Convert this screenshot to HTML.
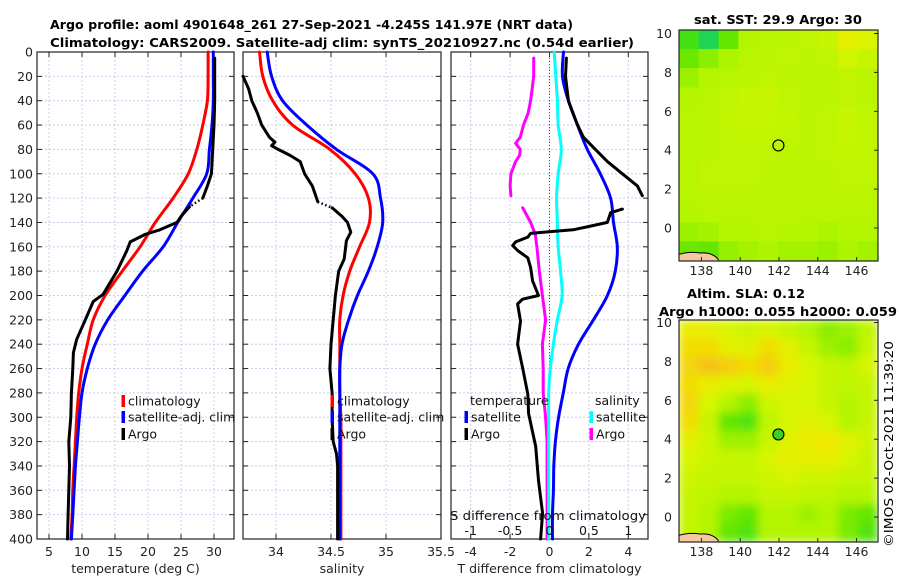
<!DOCTYPE html>
<html><head><meta charset="utf-8">
<style>
html,body{margin:0;padding:0;background:#fff;}
svg{display:block;font-family:"DejaVu Sans","Liberation Sans",sans-serif;}
</style></head>
<body>
<svg id="fig" width="900" height="580" viewBox="0 0 900 580" xmlns="http://www.w3.org/2000/svg">
<defs>
<clipPath id="clipM1"><rect x="679" y="30" width="199" height="231"/></clipPath>
<clipPath id="clipM2"><rect x="679" y="320" width="198" height="222"/></clipPath>
<filter id="blur2" x="-10%" y="-10%" width="120%" height="120%"><feGaussianBlur stdDeviation="4.5" edgeMode="duplicate"/></filter>
</defs>
<text x="50" y="29" font-size="12.5" font-weight="bold" textLength="523" lengthAdjust="spacingAndGlyphs">Argo profile: aoml 4901648_261 27-Sep-2021 -4.245S 141.97E (NRT data)</text>
<text x="50" y="47" font-size="12.5" font-weight="bold" textLength="584" lengthAdjust="spacingAndGlyphs">Climatology: CARS2009. Satellite-adj clim: synTS_20210927.nc (0.54d earlier)</text>
<text x="694" y="24" font-size="12.5" font-weight="bold" textLength="168" lengthAdjust="spacingAndGlyphs">sat. SST: 29.9 Argo: 30</text>
<text x="687" y="298" font-size="12.5" font-weight="bold" textLength="118" lengthAdjust="spacingAndGlyphs">Altim. SLA: 0.12</text>
<text x="659" y="316" font-size="12.5" font-weight="bold" textLength="238" lengthAdjust="spacingAndGlyphs">Argo h1000: 0.055 h2000: 0.059</text>
<text x="0" y="0" font-size="12.5" text-anchor="middle" transform="translate(893,444) rotate(-90)" textLength="206" lengthAdjust="spacingAndGlyphs">©IMOS 02-Oct-2021 11:39:20</text>
</svg>
<script>
// ---------- data ----------
const depthClim = [0,20,40,60,80,100,120,140,160,180,200,220,240,260,280,300,320,340,360,380,400];
const climT = [29.1,29.1,29.0,28.3,27.4,26.1,23.8,21.1,18.8,16.1,13.5,11.7,10.8,10.0,9.5,9.2,9.0,8.8,8.6,8.5,8.3];
const satT  = [29.9,29.9,29.9,29.7,29.3,28.9,26.8,24.5,22.3,19.2,16.5,13.9,12.0,10.8,10.0,9.6,9.3,9.0,8.8,8.6,8.4];
const depthArgoT = [5,20,40,60,80,100,110,120,127,135,140,146,150,156,163,180,190,199,205,220,236,247,260,280,300,320,340,360,380,400];
const argoT = [30.1,30.1,30.1,30.0,29.8,29.6,29.0,28.3,26.3,25.0,24.4,21.8,19.5,17.3,16.8,15.3,14.2,13.2,11.7,10.5,9.2,8.7,8.6,8.4,8.3,8.0,8.1,8.0,7.9,7.8];
const argoTGap = [7,8];
const climS = [33.85,33.88,33.97,34.15,34.49,34.72,34.84,34.85,34.76,34.67,34.61,34.58,34.58,34.58,34.58,34.59,34.59,34.59,34.59,34.59,34.59];
const satS  = [33.92,33.96,34.06,34.28,34.55,34.88,34.95,34.97,34.92,34.84,34.74,34.66,34.60,34.58,34.58,34.58,34.58,34.58,34.58,34.58,34.58];
const depthArgoS = [20,30,40,50,60,70,74,77,80,85,90,100,110,123,128,135,140,148,155,170,180,200,220,240,260,280,300,320,330,340,360,400];
const argoS = [33.70,33.75,33.78,33.83,33.87,33.94,33.99,33.96,34.02,34.13,34.22,34.26,34.33,34.38,34.51,34.60,34.65,34.68,34.64,34.62,34.57,34.54,34.52,34.50,34.49,34.51,34.51,34.52,34.55,34.56,34.56,34.56];
const argoSGap = [13,14];
const satTdiff = [0.71,0.66,0.96,1.42,1.92,2.58,3.1,3.25,3.44,3.34,2.94,2.23,1.47,0.95,0.7,0.46,0.3,0.22,0.2,0.15,0.15];
const satSdiff = [0.06,0.08,0.1,0.11,0.15,0.11,0.09,0.1,0.11,0.14,0.16,0.1,0.05,0.01,-0.01,-0.01,-0.01,-0.01,-0.01,-0.01,-0.01];
const depthArgoTdiff = [5,20,40,60,70,80,90,100,110,118,null,129,132,140,143,146,147.5,149,152,156,159,163,169,177,188,200,203,207,221,240,259,281,297,324,352,379,400];
const argoTdiff = [0.86,0.81,0.96,1.42,1.72,2.33,2.94,3.7,4.46,4.71,null,3.7,3.1,2.94,2.08,1.2,0.05,-0.96,-1.1,-1.72,-1.87,-1.62,-1.1,-0.96,-0.86,-0.56,-1.37,-1.62,-1.47,-1.62,-1.37,-1.1,-1.06,-0.7,-0.56,-0.35,-0.45];
const depthArgoSdiff = [5,20,30,40,50,60,70,75,80,85,90,100,110,118,null,128,140,150,160,180,200,220,240,260,280,300,320,340,380,400];
const argoSdiff = [-0.2,-0.2,-0.22,-0.24,-0.27,-0.33,-0.37,-0.43,-0.37,-0.38,-0.43,-0.49,-0.5,-0.49,null,-0.34,-0.24,-0.18,-0.16,-0.13,-0.09,-0.05,-0.09,-0.08,-0.08,-0.05,-0.03,-0.03,-0.03,-0.03];
const depthTicks = [0,20,40,60,80,100,120,140,160,180,200,220,240,260,280,300,320,340,360,380,400];
const tempTicks = [5,10,15,20,25,30];
const salTicks = [34,34.5,35,35.5];
const salTickLabels = ["34","34.5","35","35.5"];
const tdiffTicks = [-4,-2,0,2,4];
const sdiffTicks = [-1,-0.5,0,0.5,1];
const sdiffTickLabels = ["-1","-0.5","0","0.5","1"];
const lonTicks = [138,140,142,144,146];
const latTicks = [0,2,4,6,8,10];
const argoLon = 141.97, argoLat = 4.245;
const sstGrid = [
 [.3,.22,.35,.45,.46,.47,.48,.5,.6,.56],
 [.36,.4,.44,.46,.47,.48,.47,.48,.53,.5],
 [.42,.45,.46,.47,.48,.47,.47,.47,.48,.47],
 [.45,.46,.48,.5,.5,.48,.47,.47,.48,.47],
 [.46,.47,.49,.5,.5,.49,.47,.48,.5,.48],
 [.46,.47,.48,.49,.49,.48,.47,.48,.5,.49],
 [.46,.47,.48,.48,.48,.47,.47,.48,.49,.49],
 [.46,.48,.48,.48,.47,.47,.47,.47,.48,.48],
 [.46,.47,.47,.47,.47,.47,.47,.47,.47,.47],
 [.45,.46,.46,.46,.47,.47,.46,.46,.46,.46],
 [.42,.43,.45,.45,.46,.45,.45,.44,.45,.45],
 [.36,.35,.41,.43,.44,.43,.43,.42,.44,.43]
];
const slaGrid = [
 [.62,.6,.55,.52,.55,.5,.45,.4,.42,.48],
 [.68,.68,.6,.58,.68,.6,.5,.42,.4,.5],
 [.7,.75,.72,.68,.72,.62,.55,.5,.48,.55],
 [.68,.62,.58,.55,.62,.58,.55,.5,.48,.5],
 [.7,.55,.45,.4,.52,.55,.55,.5,.45,.5],
 [.68,.5,.35,.32,.48,.55,.58,.55,.45,.5],
 [.6,.52,.42,.42,.5,.58,.62,.65,.58,.52],
 [.55,.52,.5,.5,.55,.6,.6,.62,.55,.5],
 [.52,.5,.5,.5,.52,.55,.52,.52,.5,.5],
 [.5,.48,.45,.45,.5,.5,.48,.48,.45,.45],
 [.5,.45,.38,.35,.45,.45,.42,.45,.38,.35],
 [.5,.45,.35,.32,.45,.45,.45,.45,.38,.32]
];

// ---------- helpers ----------
const svg = document.getElementById('fig');
const NS = 'http://www.w3.org/2000/svg';
function mk(tag, attrs, parent){
  const e = document.createElementNS(NS, tag);
  for (const k in attrs) e.setAttribute(k, attrs[k]);
  (parent||svg).appendChild(e);
  return e;
}
const Y0 = 52, Y1 = 539;
function yD(d){ return Y0 + d*(Y1-Y0)/400; }
function xT(t){ return 49 + (t-5)*6.6; }
function xS(s){ return 331 + (s-34.5)*110; }
function xTd(v){ return 549.5 + v*19.7; }
function xSd(v){ return 549.5 + v*78.8; }

function smoothPath(xs, ys){
  let d = 'M'+xs[0].toFixed(1)+','+ys[0].toFixed(1);
  for (let i=0;i<xs.length-1;i++){
    const x0=xs[Math.max(i-1,0)], y0=ys[Math.max(i-1,0)];
    const x1=xs[i], y1=ys[i], x2=xs[i+1], y2=ys[i+1];
    const x3=xs[Math.min(i+2,xs.length-1)], y3=ys[Math.min(i+2,xs.length-1)];
    const c1x=x1+(x2-x0)/6, c1y=y1+(y2-y0)/6, c2x=x2-(x3-x1)/6, c2y=y2-(y3-y1)/6;
    d += ' C'+c1x.toFixed(1)+','+c1y.toFixed(1)+' '+c2x.toFixed(1)+','+c2y.toFixed(1)+' '+x2.toFixed(1)+','+y2.toFixed(1);
  }
  return d;
}
function linePath(xs, ys){
  let d=''; let pen=false;
  for (let i=0;i<xs.length;i++){
    if (xs[i]===null || ys[i]===null || isNaN(xs[i])){ pen=false; continue; }
    d += (pen?' L':' M')+xs[i].toFixed(1)+','+ys[i].toFixed(1); pen=true;
  }
  return d;
}

function panel(name, x0, x1, xticks, xfun, labels, title, gridX){
  const g = mk('g', {});
  
  
  for (const d of depthTicks){
    const l = mk('line', {x1:x0, x2:x1, y1:yD(d), y2:yD(d), stroke:'#c6cdea', 'stroke-width':1, 'stroke-dasharray':'2,2'}, g);
    
    
  }
  for (const t of gridX){
    const l = mk('line', {x1:xfun(t), x2:xfun(t), y1:Y0, y2:Y1, stroke:'#d6c8e0', 'stroke-width':1, 'stroke-dasharray':'2,2'}, g);
    
    
  }
  const fr = mk('rect', {x:x0, y:Y0, width:x1-x0, height:Y1-Y0, fill:'none', stroke:'#222', 'stroke-width':1.2}, g);
  
  
  for (const d of depthTicks){
    const a = mk('line', {x1:x0, x2:x0+5, y1:yD(d), y2:yD(d), stroke:'#222'}, g);
    
    
    const b = mk('line', {x1:x1-5, x2:x1, y1:yD(d), y2:yD(d), stroke:'#222'}, g);
    
    
  }
  xticks.forEach((t,i)=>{
    const x = xfun(t);
    const a = mk('line', {x1:x, x2:x, y1:Y1, y2:Y1-5, stroke:'#222'}, g);
    
    
    const b = mk('line', {x1:x, x2:x, y1:Y0, y2:Y0+5, stroke:'#222'}, g);
    
    
    const tx = mk('text', {x:x, y:556, 'font-size':12.5, 'text-anchor':'middle', fill:'#222'}, g);
    
    
    tx.textContent = labels[i];
  });
  const at = mk('text', {x:(x0+x1)/2, y:573, 'font-size':12.5, 'text-anchor':'middle', fill:'#222'}, g);
  
  
  at.textContent = title;
  return g;
}

function series(g, name, xs, ys, color, smooth, gap){
  if (gap){
    const a = gap[0], b = gap[1];
    const p1 = mk('path', {d:linePath(xs.slice(0,a+1), ys.slice(0,a+1)), fill:'none', stroke:color, 'stroke-width':3, 'stroke-linejoin':'round', 'stroke-linecap':'round'}, g);
    
    
    const p2 = mk('path', {d:linePath(xs.slice(a,b+1), ys.slice(a,b+1)), fill:'none', stroke:color, 'stroke-width':2.5, 'stroke-dasharray':'1.5,2.5'}, g);
    
    
    const p3 = mk('path', {d:linePath(xs.slice(b), ys.slice(b)), fill:'none', stroke:color, 'stroke-width':3, 'stroke-linejoin':'round', 'stroke-linecap':'round'}, g);
    
    
    return;
  }
  const p = mk('path', {d: smooth ? smoothPath(xs, ys) : linePath(xs, ys), fill:'none', stroke:color, 'stroke-width':3, 'stroke-linejoin':'round', 'stroke-linecap':'round'}, g);
  
  
}

function legendEntry(g, x, y, color, label){
  const r = mk('rect', {x:x-1.5, y:y-6, width:3.5, height:12, fill:color}, g);
  
  
  const t = mk('text', {x:x+5, y:y+4.5, 'font-size':12.5, fill:'#111'}, g);
  
  
  t.textContent = label;
}

for (const d of depthTicks){
  const t = mk('text', {x:33, y:yD(d)+4.5, 'font-size':12.5, 'text-anchor':'end', fill:'#222'});
  
  
  t.textContent = d;
}

const g1 = panel('temperature-panel', 37, 234, tempTicks, xT, tempTicks.map(String), 'temperature (deg C)', tempTicks);
series(g1, 'climatology-temperature', climT.map(xT), depthClim.map(yD), '#ff0000', true);
series(g1, 'satellite-temperature', satT.map(xT), depthClim.map(yD), '#0000ff', true);
series(g1, 'argo-temperature', argoT.map(xT), depthArgoT.map(yD), '#000000', false, argoTGap);
legendEntry(g1, 123, 401, '#ff0000', 'climatology');
legendEntry(g1, 123, 417, '#0000ff', 'satellite-adj. clim');
legendEntry(g1, 123, 434, '#000000', 'Argo');

const g2 = panel('salinity-panel', 243, 441, salTicks, xS, salTickLabels, 'salinity', [34,34.5,35]);
series(g2, 'climatology-salinity', climS.map(xS), depthClim.map(yD), '#ff0000', true);
series(g2, 'satellite-salinity', satS.map(xS), depthClim.map(yD), '#0000ff', true);
series(g2, 'argo-salinity', argoS.map(xS), depthArgoS.map(yD), '#000000', false, argoSGap);
legendEntry(g2, 332, 401, '#ff0000', 'climatology');
legendEntry(g2, 332, 417, '#0000ff', 'satellite-adj. clim');
legendEntry(g2, 332, 434, '#000000', 'Argo');

const g3 = panel('difference-panel', 451, 648, tdiffTicks, xTd, tdiffTicks.map(String), 'T difference from climatology', tdiffTicks);
const zl = mk('line', {x1:xTd(0), x2:xTd(0), y1:Y0, y2:Y1, stroke:'#555533', 'stroke-width':1, 'stroke-dasharray':'1,2'}, g3);


series(g3, 'argo-salinity-diff', argoSdiff.map(v=>v===null?null:xSd(v)), depthArgoSdiff.map(d=>d===null?null:yD(d)), '#ff00ff', false);
series(g3, 'satellite-salinity-diff', satSdiff.map(xSd), depthClim.map(yD), '#00ffff', true);
series(g3, 'satellite-temperature-diff', satTdiff.map(xTd), depthClim.map(yD), '#0000ff', true);
series(g3, 'argo-temperature-diff', argoTdiff.map(v=>v===null?null:xTd(v)), depthArgoTdiff.map(d=>d===null?null:yD(d)), '#000000', false);
const lt1 = mk('text', {x:470, y:405, 'font-size':12.5, fill:'#111'}, g3);


lt1.textContent = 'temperature';
const lt2 = mk('text', {x:595, y:405, 'font-size':12.5, fill:'#111'}, g3);


lt2.textContent = 'salinity';
legendEntry(g3, 466, 417, '#0000ff', 'satellite');
legendEntry(g3, 466, 434, '#000000', 'Argo');
legendEntry(g3, 591, 417, '#00ffff', 'satellite');
legendEntry(g3, 591, 434, '#ff00ff', 'Argo');
const sdt = mk('text', {x:450, y:520, 'font-size':12.5, fill:'#111', textLength:196, lengthAdjust:'spacingAndGlyphs'}, g3);


sdt.textContent = 'S difference from climatology';
sdiffTicks.forEach((v,i)=>{
  const t = mk('text', {x:xSd(v), y:535, 'font-size':12.5, 'text-anchor':'middle', fill:'#111'}, g3);
  
  
  t.textContent = sdiffTickLabels[i];
});

const cstops = [[0.1,[0,180,255]],[0.25,[40,220,40]],[0.35,[100,230,0]],[0.45,[180,245,0]],[0.55,[215,245,0]],[0.65,[240,232,0]],[0.75,[245,195,20]]];
function cmap(v){
  if (v<=cstops[0][0]) return 'rgb('+cstops[0][1].join(',')+')';
  for (let i=0;i<cstops.length-1;i++){
    const a=cstops[i], b=cstops[i+1];
    if (v<=b[0]){ const f=(v-a[0])/(b[0]-a[0]); return 'rgb('+a[1].map((c,k)=>Math.round(c+(b[1][k]-c)*f)).join(',')+')'; }
  }
  return 'rgb('+cstops[cstops.length-1][1].join(',')+')';
}
function lonX(l){ return 779 + (l-142)*19.4; }
function drawMap(name, grid, top, bottom, lat0y, blur, clip, markerFill){
  const g = mk('g', {});
  
  
  const cg = mk('g', {'clip-path':'url(#'+clip+')'}, g);
  const ig = mk('g', blur ? {filter:'url(#blur2)'} : {}, cg);
  const rows = grid.length, cols = grid[0].length;
  const cw = (878-679)/cols, ch = (bottom-top)/rows;
  for (let r=0;r<rows;r++) for (let c=0;c<cols;c++){
    const cell = mk('rect', {x:679+c*cw-0.3, y:top+r*ch-0.3, width:cw+0.6, height:ch+0.6, fill:cmap(grid[r][c])}, ig);
    
    
  }
  const land = mk('path', {d:'M677,'+(bottom-6)+' Q688,'+(bottom-10)+' 700,'+(bottom-8)+' Q712,'+(bottom-9)+' 718,'+(bottom-2)+' L719,'+(bottom+2)+' L677,'+(bottom+2)+' Z', fill:'#f5c8a0', stroke:'#000', 'stroke-width':1}, cg);
  
  
  const fr = mk('rect', {x:679, y:top, width:199, height:bottom-top, fill:'none', stroke:'#222', 'stroke-width':1.2}, g);
  
  
  for (const l of lonTicks){
    const tk = mk('line', {x1:lonX(l), x2:lonX(l), y1:bottom, y2:bottom-4, stroke:'#222'}, g);
    
    
    const t = mk('text', {x:lonX(l), y:bottom+14, 'font-size':12.5, 'text-anchor':'middle', fill:'#222'}, g);
    
    
    t.textContent = l;
  }
  for (const la of latTicks){
    const y = lat0y - la*19.45;
    const tk = mk('line', {x1:874, x2:878, y1:y, y2:y, stroke:'#222'}, g);
    
    
    const t = mk('text', {x:672, y:y+4.5, 'font-size':12.5, 'text-anchor':'end', fill:'#222'}, g);
    
    
    t.textContent = la;
  }
  const m = mk('circle', {cx:lonX(argoLon), cy:lat0y - argoLat*19.45, r:5.5, fill:markerFill, stroke:'#000', 'stroke-width':1.2}, g);
  
  
}
drawMap('sst-map', sstGrid, 30, 261, 228, false, 'clipM1', 'none');
drawMap('sla-map', slaGrid, 320, 542, 517, true, 'clipM2', '#3ed020');
</script>
</body></html>
